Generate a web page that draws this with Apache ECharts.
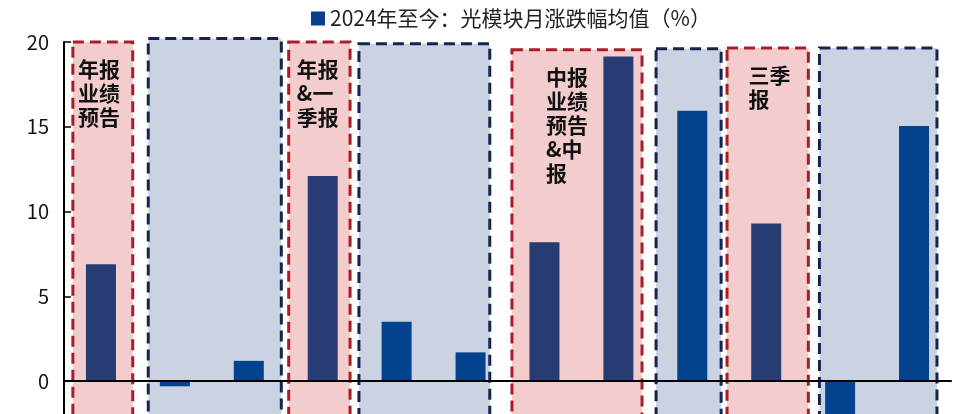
<!DOCTYPE html>
<html>
<head>
<meta charset="utf-8">
<script src="https://cdn.jsdelivr.net/npm/echarts@6/dist/echarts.min.js"></script>
<style>html,body{margin:0;padding:0;background:#fff;}#c{width:973px;height:414px;}</style>
</head>
<body>
<div id="c"></div>
<script>
// ---- data ----
const categories = ['1','2','3','4','5','6','7','8','9','10','11','12'];
const values = [6.9, -0.3, 1.2, 12.1, 3.5, 1.7, 8.2, 19.15, 15.95, 9.3, -4.0, 15.05];
const barPhase = ['report','gap','gap','report','gap','gap','report','report','gap','report','gap','gap'];
const seriesName = '2024年至今：光模块月涨跌幅均值（%）';
const yTicks = [-5, 0, 5, 10, 15, 20];

// annotation regions (x in category units, y in value units)
const regionStart = [0.12, 1.14, 3.04, 3.99, 6.06, 8.01, 8.97, 10.22];
const regionEnd   = [0.93, 2.94, 3.87, 5.76, 7.82, 8.89, 10.07, 11.81];
const regionTop   = [20.0, 20.2, 20.0, 19.9, 19.55, 19.6, 19.65, 19.65];
const regionKind  = ['report','gap','report','gap','report','gap','report','gap'];
const regionLabel = ['年报\n业绩\n预告', '', '年报\n&一\n季报', '', '中报\n业绩\n预告\n&中\n报', '', '三季\n报', ''];
const regionLabelX = [0.19, 0, 3.15, 0, 6.52, 0, 9.26, 0];

const regionBottom = -5;
const colors = {
  reportBar: '#283C74', gapBar: '#02438D',
  reportFill: '#F3CCCE', gapFill: '#CBD3E3',
  reportBorder: '#AB1C25', gapBorder: '#15254F'
};

const regionData = regionStart.map((s, i) => [s, regionEnd[i], regionTop[i], regionBottom, i]);

const chart = echarts.init(document.getElementById('c'));
chart.setOption({
  animation: false,
  backgroundColor: '#fff',
  textStyle: { fontFamily: '"Noto Sans CJK SC", "Noto Sans", sans-serif' },
  legend: {
    data: [{ name: seriesName, itemStyle: { color: '#0A3F8C' } }],
    left: 306, top: 3,
    itemWidth: 14, itemHeight: 14, itemGap: 8,
    icon: 'rect',
    textStyle: { fontSize: 21, color: '#222', fontFamily: '"Noto Sans CJK SC", sans-serif' }
  },
  grid: { left: 64, top: 42, right: 22, height: 424, containLabel: false, outerBoundsMode: 'none' },
  xAxis: [
    {
      type: 'category', data: categories, z: 20,
      axisLine: { onZero: true, lineStyle: { color: '#000', width: 2 } },
      axisTick: { show: false }, axisLabel: { show: false }, splitLine: { show: false }
    },
    { type: 'value', min: 0, max: 12, show: false }
  ],
  yAxis: {
    type: 'value', min: yTicks[0], max: yTicks[yTicks.length - 1], interval: 5, z: 20,
    axisLine: { show: true, onZero: false, lineStyle: { color: '#000', width: 2 } },
    axisTick: { show: true, inside: true, length: 7, lineStyle: { color: '#000', width: 1.5 } },
    axisLabel: { fontSize: 20, color: '#111', margin: 15, fontFamily: '"Noto Sans CJK SC", sans-serif' },
    splitLine: { show: false }
  },
  series: [
    {
      type: 'custom', xAxisIndex: 1, yAxisIndex: 0, z: 1, silent: true,
      data: regionData,
      encode: { x: [0, 1], y: [2, 3] },
      clip: false,
      renderItem: function (params, api) {
        const i = api.value(4);
        const p0 = api.coord([api.value(0), api.value(2)]);
        const p1 = api.coord([api.value(1), api.value(3)]);
        const kind = regionKind[i];
        const fill = kind === 'report' ? colors.reportFill : colors.gapFill;
        const border = kind === 'report' ? colors.reportBorder : colors.gapBorder;
        const children = [
          { type: 'rect', shape: { x: p0[0], y: p0[1], width: p1[0] - p0[0], height: p1[1] - p0[1] },
            style: { fill: fill, stroke: null } },
          { type: 'rect', shape: { x: p0[0], y: p0[1], width: p1[0] - p0[0], height: p1[1] - p0[1] },
            style: { fill: null, stroke: border, lineWidth: 3, lineDash: [11, 6] } }
        ];
        if (regionLabel[i]) {
          const lx = api.coord([regionLabelX[i], 0])[0];
          children.push({
            type: 'text', z2: 10,
            style: {
              text: regionLabel[i], x: lx, y: p0[1] + 15,
              fill: '#111', fontSize: 21, fontWeight: 'bold', lineHeight: 24,
              fontFamily: '"Noto Sans CJK SC", sans-serif',
              align: 'left', verticalAlign: 'top'
            }
          });
        }
        return { type: 'group', children: children };
      }
    },
    {
      name: seriesName, type: 'bar', xAxisIndex: 0, yAxisIndex: 0, z: 5,
      barWidth: 30,
      data: values.map((v, i) => ({
        value: v,
        itemStyle: { color: barPhase[i] === 'report' ? colors.reportBar : colors.gapBar }
      }))
    }
  ]
});
</script>
</body>
</html>
